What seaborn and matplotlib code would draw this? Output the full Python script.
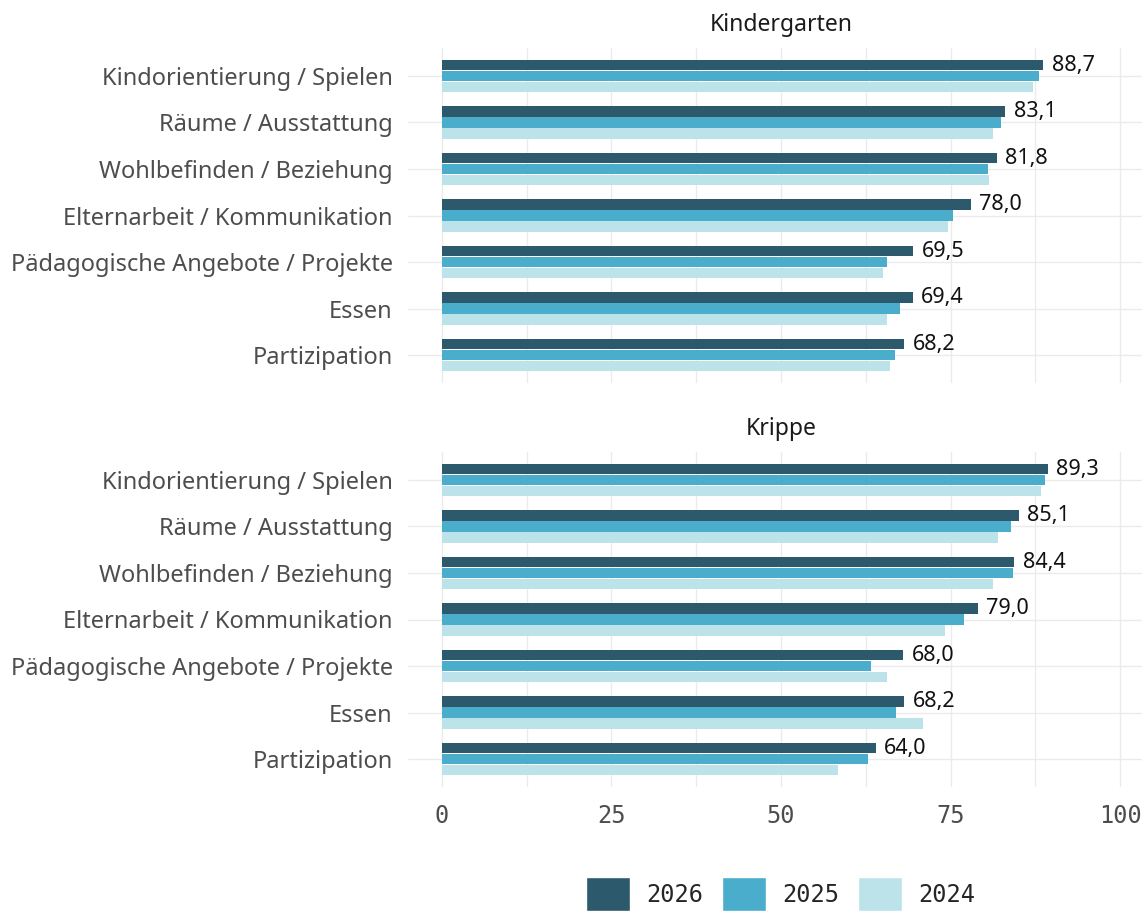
import matplotlib.pyplot as plt
import pandas as pd
import seaborn as sns
from matplotlib.patches import Patch
from matplotlib.ticker import MultipleLocator

CATEGORIES = [
    "Kindorientierung / Spielen",
    "Räume / Ausstattung",
    "Wohlbefinden / Beziehung",
    "Elternarbeit / Kommunikation",
    "Pädagogische Angebote / Projekte",
    "Essen",
    "Partizipation",
]
PANELS = ["Kindergarten", "Krippe"]
YEARS = ["2026", "2025", "2024"]

KITA_2026 = [88.7, 83.1, 81.8, 78.0, 69.5, 69.4, 68.2]
KITA_2025 = [88.1, 82.4, 80.5, 75.3, 65.6, 67.6, 66.8]
KITA_2024 = [87.1, 81.3, 80.7, 74.6, 65.0, 65.6, 66.0]
KRIPPE_2026 = [89.3, 85.1, 84.4, 79.0, 68.0, 68.2, 64.0]
KRIPPE_2025 = [88.9, 83.9, 84.2, 77.0, 63.3, 66.9, 62.9]
KRIPPE_2024 = [88.3, 82.0, 81.3, 74.2, 65.6, 71.0, 58.4]

COLORS = {"2026": "#2C596B", "2025": "#49ADCB", "2024": "#BDE3EA"}
GRID = "#EBEBEB"

series = {
    ("Kindergarten", "2026"): KITA_2026,
    ("Kindergarten", "2025"): KITA_2025,
    ("Kindergarten", "2024"): KITA_2024,
    ("Krippe", "2026"): KRIPPE_2026,
    ("Krippe", "2025"): KRIPPE_2025,
    ("Krippe", "2024"): KRIPPE_2024,
}
rows = []
for (panel, year), vals in series.items():
    for cat, v in zip(CATEGORIES, vals):
        rows.append({"panel": panel, "kategorie": cat, "jahr": year, "wert": v})
df = pd.DataFrame(rows)

sns.set_theme(style="white")
plt.rcParams["font.family"] = ["Noto Sans", "DejaVu Sans"]
NUM_FONT = ["DejaVu Sans Mono", "Noto Sans"]

W, H = 1142, 911
fig = plt.figure(figsize=(W / 100, H / 100), dpi=100)
left, width = 408 / W, 746 / W
panel_h = 335 / H
tops = [48, 452]

axes = []
for i, (panel, top) in enumerate(zip(PANELS, tops)):
    ax = fig.add_axes([left, 1 - (top + 335) / H, width, panel_h])
    axes.append(ax)
    sub = df[df["panel"] == panel]
    sns.barplot(
        data=sub, x="wert", y="kategorie", hue="jahr",
        order=CATEGORIES, hue_order=YEARS, palette=COLORS,
        orient="h", width=0.70, gap=0.04, saturation=1, linewidth=0,
        errorbar=None, legend=False, ax=ax,
    )
    # value labels only on the newest year
    labels = [f"{v:.1f}".replace(".", ",") for v in sub[sub["jahr"] == "2026"]["wert"]]
    ax.bar_label(ax.containers[0], labels=labels, padding=6, fontsize=15.5,
                 color="#111111")

    ax.set_xlim(-5, 105)
    ax.set_ylim(6.6, -0.6)
    ax.xaxis.set_major_locator(MultipleLocator(25))
    ax.xaxis.set_minor_locator(MultipleLocator(12.5))
    ax.grid(which="major", axis="both", color=GRID, linewidth=1.0)
    ax.grid(which="minor", axis="x", color=GRID, linewidth=1.0)
    ax.set_axisbelow(True)
    for s in ax.spines.values():
        s.set_visible(False)
    ax.tick_params(axis="both", which="both", length=0)
    ax.tick_params(axis="y", pad=11, labelsize=17, labelcolor="#4D4D4D")
    ax.tick_params(axis="x", pad=12, labelsize=17, labelcolor="#4D4D4D")
    for lab in ax.get_xticklabels():
        lab.set_family(NUM_FONT)
    ax.set_xlabel("")
    ax.set_ylabel("")
    ax.set_title(panel, fontsize=16.5, color="#1A1A1A", pad=12)
    if i == 0:
        ax.tick_params(axis="x", labelbottom=False)

handles = [Patch(facecolor=COLORS[y], label=y) for y in YEARS]
leg = fig.legend(
    handles=handles, loc="center", bbox_to_anchor=(781 / W, 1 - 894 / H),
    ncol=3, frameon=False, fontsize=17, handlelength=1.85, handleheight=1.9,
    handletextpad=0.7, columnspacing=0.8,
)
for t in leg.get_texts():
    t.set_family(NUM_FONT)

fig.savefig("out.png", dpi=100)
